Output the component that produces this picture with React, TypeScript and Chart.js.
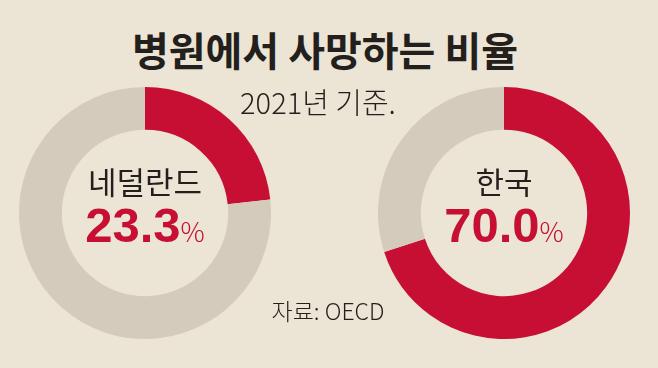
import React, { useEffect, useRef } from "react";
import { Chart, registerables } from "chart.js";

Chart.register(...registerables);

const title = "병원에서 사망하는 비율";
const subtitle = "2021년 기준.";
const source = "자료: OECD";
const countries = ["네덜란드", "한국"];
const hospitalShares = [23.3, 70.0];
const sliceLabels = ["병원", "기타"];

const RED = "#c60f33";
const GRAY = "#d4cbbc";
const BG = "#ece4d5";
const KR = '"Noto Sans CJK KR", "Noto Sans", sans-serif';
const NUM = '"Liberation Sans", Arial, sans-serif';

function Donut({ value, left, top, size }: { value: number; left: number; top: number; size: number }) {
  const ref = useRef<HTMLCanvasElement>(null);
  useEffect(() => {
    if (!ref.current) return;
    const chart = new Chart(ref.current, {
      type: "doughnut",
      data: {
        labels: sliceLabels,
        datasets: [
          {
            data: [value, 100 - value],
            backgroundColor: [RED, GRAY],
            borderWidth: 0,
          },
        ],
      },
      options: {
        responsive: false,
        animation: false,
        devicePixelRatio: 1,
        cutout: "66%",
        layout: { padding: 0 },
        plugins: { legend: { display: false }, tooltip: { enabled: false } },
      },
    });
    return () => chart.destroy();
  }, [value]);
  return (
    <canvas
      ref={ref}
      width={size}
      height={size}
      style={{ position: "absolute", left, top, width: size, height: size }}
    />
  );
}

function CenterLabel({ cx, name, value }: { cx: number; name: string; value: number }) {
  return (
    <>
      <div
        style={{
          position: "absolute",
          left: cx - 100,
          width: 200,
          top: 164,
          textAlign: "center",
          fontFamily: KR,
          fontSize: 31,
          lineHeight: "34px",
          color: "#231f1c",
          fontWeight: 400,
        }}
      >
        {name}
      </div>
      <div
        style={{
          position: "absolute",
          left: cx - 100,
          width: 200,
          top: 199,
          textAlign: "center",
          color: RED,
          lineHeight: "52px",
          whiteSpace: "nowrap",
        }}
      >
        <span style={{ fontFamily: NUM, fontWeight: 700, fontSize: 49 }}>{value.toFixed(1)}</span>
        <span style={{ fontFamily: KR, fontWeight: 300, fontSize: 27 }}>%</span>
      </div>
    </>
  );
}

export default function App() {
  useEffect(() => {
    document.body.style.margin = "0";
  }, []);
  const size = 252;
  return (
    <div style={{ position: "relative", width: 658, height: 368, background: BG, overflow: "hidden" }}>
      <Donut value={hospitalShares[0]} left={19} top={87} size={size} />
      <Donut value={hospitalShares[1]} left={378} top={87} size={size} />
      <div
        style={{
          position: "absolute",
          left: 0,
          width: 650,
          top: 24,
          textAlign: "center",
          fontFamily: KR,
          fontWeight: 700,
          fontSize: 40,
          lineHeight: "50px",
          color: "#231f1c",
        }}
      >
        {title}
      </div>
      <div
        style={{
          position: "absolute",
          left: 218,
          width: 200,
          top: 83,
          textAlign: "center",
          fontFamily: KR,
          fontWeight: 300,
          fontSize: 29,
          lineHeight: "36px",
          color: "#231f1c",
        }}
      >
        {subtitle}
      </div>
      <CenterLabel cx={145} name={countries[0]} value={hospitalShares[0]} />
      <CenterLabel cx={504} name={countries[1]} value={hospitalShares[1]} />
      <div
        style={{
          position: "absolute",
          left: 228,
          width: 200,
          top: 295,
          textAlign: "center",
          fontFamily: KR,
          fontWeight: 300,
          fontSize: 23,
          lineHeight: "30px",
          color: "#231f1c",
        }}
      >
        {source}
      </div>
    </div>
  );
}
